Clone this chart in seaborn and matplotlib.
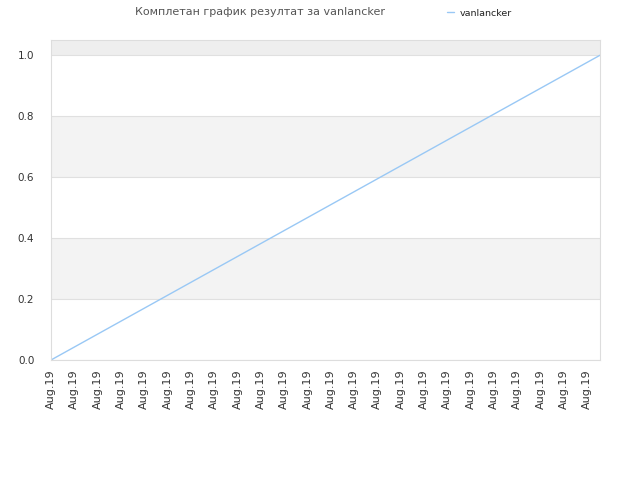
import matplotlib
matplotlib.use("Agg")
import matplotlib.pyplot as plt
import seaborn as sns
import pandas as pd

# data
days = [0.0, 23.55]
score = [0.0, 1.0]
tick_pos = list(range(24))
tick_labels = ["Aug.19"] * 24
series_name = "vanlancker"
title = "Комплетан график резултат за vanlancker"

sns.set_style("white")
plt.rcParams["font.family"] = ["DejaVu Sans"]

df = pd.DataFrame({"day": days, "score": score, "name": series_name})

fig = plt.figure(figsize=(6.4, 4.8), dpi=100)
ax = fig.add_axes([51 / 640, 120 / 480, 549 / 640, 320 / 480])

# alternating horizontal bands
bands = [(0.2, 0.4), (0.6, 0.8)]
for lo, hi in bands:
    ax.axhspan(lo, hi, color="#f3f3f3", zorder=0, lw=0)
ax.axhspan(1.0, 1.05, color="#eeeeee", zorder=0, lw=0)

sns.lineplot(data=df, x="day", y="score", ax=ax, color="#99c8f5", lw=1,
             label=series_name, legend=False)

ax.set_xlim(days[0], days[-1])
ax.set_ylim(0, 1.05)
ax.set_yticks([0.0, 0.2, 0.4, 0.6, 0.8, 1.0])
ax.set_yticklabels(["0.0", "0.2", "0.4", "0.6", "0.8", "1.0"])
ax.set_xticks(tick_pos)
ax.set_xticklabels(tick_labels, rotation=90)
ax.tick_params(axis="x", labelsize=8, colors="#333333", length=0, pad=7)
ax.tick_params(axis="y", labelsize=7.5, colors="#333333", length=0, pad=12)
ax.set_xlabel("")
ax.set_ylabel("")
ax.grid(axis="y", color="#e0e0e0", lw=0.8)
ax.set_axisbelow(True)
for s in ax.spines.values():
    s.set_color("#dddddd")
    s.set_linewidth(0.8)

fig.text(260 / 640, 1 - 12 / 480, title, ha="center", va="center",
         fontsize=8, color="#555555")
fig.legend(handles=ax.get_lines()[:1], labels=[series_name], loc="center left",
           bbox_to_anchor=(438 / 640, 1 - 13 / 480), frameon=False,
           fontsize=6.8, handlelength=0.8, handletextpad=0.6,
           labelcolor="#222222")

fig.savefig("out.png", dpi=100)
